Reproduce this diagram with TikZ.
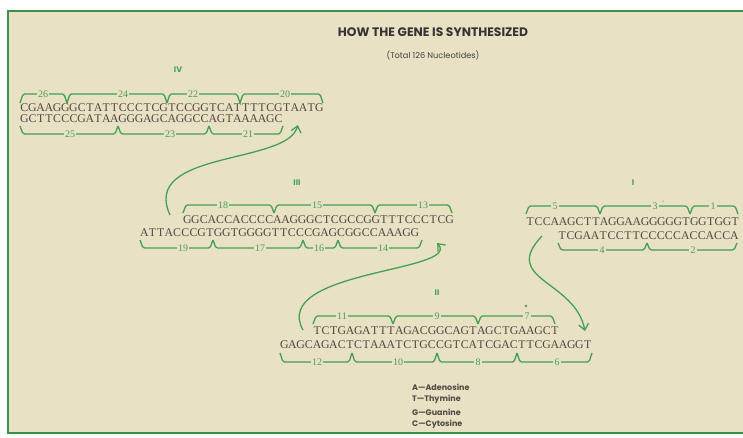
\documentclass[tikz,border=0pt]{standalone}
\usepackage{fontspec}
\setmainfont{Liberation Serif}
\newfontfamily\headfont{Poppins}
\usetikzlibrary{arrows.meta}
\definecolor{paper}{RGB}{233,225,196}
\definecolor{dnagreen}{RGB}{68,160,82}
\definecolor{framegreen}{RGB}{58,145,72}
\definecolor{ink}{RGB}{78,74,68}
% one base per fixed-width cell
\newcommand\dna[1]{\dnastep#1\relax}
\newcommand\dnastep[1]{\ifx\relax#1\else\makebox[8.2pt]{#1}\expandafter\dnastep\fi}

\begin{document}
\begin{tikzpicture}[
    x=1pt, y=-1pt,
    strand/.style={anchor=west, inner sep=0pt, text=ink, font=\fontsize{11.8}{12}\selectfont},
    num/.style={fill=paper, inner sep=1.2pt, text=dnagreen, font=\fontsize{10}{10}\selectfont},
    brk/.style={draw=dnagreen, line width=1.3pt, rounded corners=1.5pt},
    roman/.style={text=dnagreen, inner sep=0pt, font=\headfont\bfseries\fontsize{8}{8}\selectfont},
    arr/.style={draw=dnagreen, line width=1.3pt, -{Straight Barb[length=6pt, width=10pt]}},
    legend/.style={anchor=west, inner sep=0pt, text=ink, font=\headfont\bfseries\fontsize{8}{8}\selectfont}
]

% paper and frame
\useasboundingbox (0,0) rectangle (743,437);
\fill[white] (0,0) rectangle (743,437);
\fill[paper] (8,11) rectangle (743,433);
\draw[framegreen, line width=2pt] (743,11) -- (8,11) -- (8,433) -- (743,433);

\node[font=\headfont\bfseries\fontsize{12.3}{13}\selectfont, text=black!80] (title) at (433,32) {HOW THE GENE IS SYNTHESIZED};
\node[font=\headfont\fontsize{8.2}{9}\selectfont, text=black!75] (total) at (433,55) {(Total 126 Nucleotides)};

% strands
\node[strand] (s4t) at (20,108) {\dna{CGAAGGGCTATTCCCTCGTCCGGTCATTTTCGTAATG}};
\node[strand] (s4b) at (20,119) {\dna{GCTTCCCGATAAGGGAGCAGGCCAGTAAAAGC}};
\node[strand] (s3t) at (183,220) {\dna{GGCACCACCCCAAGGGCTCGCCGGTTTCCCTCG}};
\node[strand] (s3b) at (140,233) {\dna{ATTACCCGTGGTGGGGTTCCCGAGCGGCCAAAGG}};
\node[strand] (s1t) at (526,222) {\dna{TCCAAGCTTAGGAAGGGGGTGGTGGT}};
\node[strand] (s1b) at (558,236) {\dna{TCGAATCCTTCCCCCACCACCA}};
\node[strand] (s2t) at (313,331) {\dna{TCTGAGATTTAGACGGCAGTAGCTGAAGCT}};
\node[strand] (s2b) at (280,345) {\dna{GAGCAGACTCTAAATCTGCCGTCATCGACTTCGAAGGT}};

\node[roman] (r4) at (178,70) {IV};
\node[roman] (r3) at (297,183) {III};
\node[roman] (r1) at (633,183) {I};
\node[roman] (r2) at (437,293) {II};

% fragments above and below each strand
\foreach \a/\b/\l/\n in {20/67/43/26, 67/167/123/24, 167/240/193/22, 240/323/285/20} {
    \draw[brk] (\a,103) -- (\a+3,94) -- (\b-3,94) -- (\b,103);
    \node[num] (f\n) at (\l,94) {\n};
}
\foreach \a/\b/\l/\n in {20/118/70/25, 118/209/170/23, 209/283/248/21} {
    \draw[brk] (\a,126) -- (\a+3,134) -- (\b-3,134) -- (\b,126);
    \node[num] (f\n) at (\l,134) {\n};
}
\foreach \a/\b/\l/\n in {183/274/223/18, 274/375/317/15, 375/452/423/13} {
    \draw[brk] (\a,213) -- (\a+3,205) -- (\b-3,205) -- (\b,213);
    \node[num] (f\n) at (\l,205) {\n};
}
\foreach \a/\b/\l/\n in {140/213/183/19, 213/303/260/17, 303/338/319/16, 338/422/383/14} {
    \draw[brk] (\a,240) -- (\a+3,248) -- (\b-3,248) -- (\b,240);
    \node[num] (f\n) at (\l,248) {\n};
}
\foreach \a/\b/\l/\n in {526/600/555/5, 600/690/655/3, 690/738/713/1} {
    \draw[brk] (\a,214) -- (\a+3,206) -- (\b-3,206) -- (\b,214);
    \node[num] (f\n) at (\l,206) {\n};
}
\foreach \a/\b/\l/\n in {558/647/602/4, 647/737/693/2} {
    \draw[brk] (\a,243) -- (\a+3,250) -- (\b-3,250) -- (\b,243);
    \node[num] (f\n) at (\l,250) {\n};
}
\foreach \a/\b/\l/\n in {313/393/342/11, 393/478/437/9, 478/555/527/7} {
    \draw[brk] (\a,324) -- (\a+3,316) -- (\b-3,316) -- (\b,324);
    \node[num] (f\n) at (\l,316) {\n};
}
\foreach \a/\b/\l/\n in {280/352/317/12, 352/437/398/10, 437/517/478/8, 517/592/557/6} {
    \draw[brk] (\a,353) -- (\a+3,362) -- (\b-3,362) -- (\b,353);
    \node[num] (f\n) at (\l,362) {\n};
}
\fill[dnagreen] (526,306) circle (1.4);
\fill[dnagreen] (663,201) circle (0.7);

% joining order
\draw[arr] ([shift={(-13,-5)}]s3t.west) .. controls +(-30,-65) and +(-10,40) .. ([shift={(15,6)}]s4b.east);
\draw[arr] ([shift={(-10,-1)}]s2t.west) .. controls +(-33,-60) and +(25,29) .. ([shift={(18,10)}]s3b.east);
\draw[arr] ([shift={(-16,0)}]s1b.west) .. controls +(-42,44) and +(-10,-51) .. ([shift={(-7,-14)}]s2b.east);

% key
\node[legend] (ka) at (412,387) {A—Adenosine};
\node[legend] (kt) at (412,399) {T—Thymine};
\node[legend] (kg) at (412,412) {G—Guanine};
\node[legend] (kc) at (412,424) {C—Cytosine};

\end{tikzpicture}
\end{document}
